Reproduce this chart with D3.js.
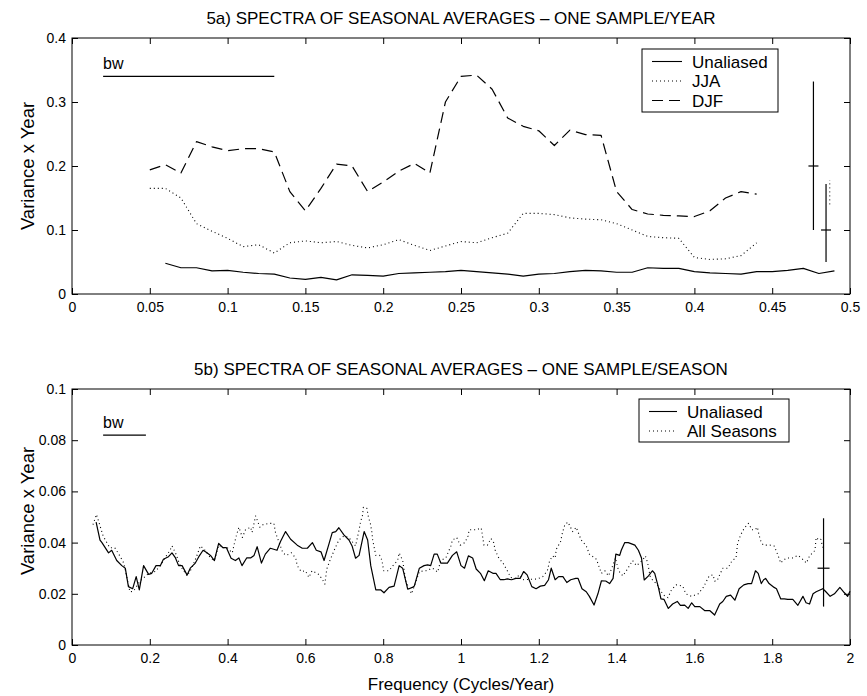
<!DOCTYPE html>
<html>
<head>
<meta charset="utf-8">
<script src="https://cdn.jsdelivr.net/npm/d3@7"></script>
<style>
  body { margin: 0; background: #fff; }
  svg text { font-family: "Liberation Sans", Arial, Helvetica, sans-serif; fill: #000; }
</style>
</head>
<body>
<div id="canvas"></div>
<script>
// ---- 5a data (one sample / year) ----
var freqUnalA = [0.06, 0.07, 0.08, 0.09, 0.10, 0.11, 0.12, 0.13, 0.14, 0.15, 0.16, 0.17, 0.18, 0.19, 0.20,
  0.21, 0.22, 0.23, 0.24, 0.25, 0.26, 0.27, 0.28, 0.29, 0.30, 0.31, 0.32, 0.33, 0.34, 0.35, 0.36, 0.37,
  0.38, 0.39, 0.40, 0.41, 0.42, 0.43, 0.44, 0.45, 0.46, 0.47, 0.48, 0.49];
var unaliasedA = [0.048, 0.041, 0.041, 0.036, 0.037, 0.034, 0.032, 0.031, 0.025, 0.023, 0.026, 0.022, 0.030,
  0.029, 0.028, 0.032, 0.033, 0.034, 0.035, 0.037, 0.035, 0.033, 0.031, 0.028, 0.031, 0.032, 0.035, 0.037,
  0.036, 0.034, 0.034, 0.041, 0.040, 0.040, 0.035, 0.033, 0.032, 0.031, 0.035, 0.035, 0.037, 0.040, 0.032, 0.036];

var freqSeason = [0.05, 0.06, 0.07, 0.08, 0.09, 0.10, 0.11, 0.12, 0.13, 0.14, 0.15, 0.16, 0.17, 0.18, 0.19,
  0.20, 0.21, 0.22, 0.23, 0.24, 0.25, 0.26, 0.27, 0.28, 0.29, 0.30, 0.31, 0.32, 0.33, 0.34, 0.35, 0.36,
  0.37, 0.38, 0.39, 0.40, 0.41, 0.42, 0.43, 0.44];
var jja = [0.165, 0.165, 0.150, 0.110, 0.098, 0.087, 0.074, 0.077, 0.064, 0.080, 0.083, 0.080, 0.082, 0.076,
  0.072, 0.077, 0.085, 0.076, 0.068, 0.075, 0.082, 0.080, 0.088, 0.095, 0.126, 0.126, 0.124, 0.119, 0.117,
  0.116, 0.110, 0.100, 0.090, 0.088, 0.087, 0.057, 0.054, 0.055, 0.060, 0.080];
var djf = [0.194, 0.202, 0.189, 0.238, 0.230, 0.224, 0.227, 0.227, 0.222, 0.160, 0.130, 0.165, 0.203, 0.200,
  0.160, 0.175, 0.192, 0.204, 0.189, 0.300, 0.340, 0.342, 0.320, 0.275, 0.262, 0.255, 0.232, 0.256, 0.249,
  0.248, 0.160, 0.132, 0.125, 0.123, 0.122, 0.121, 0.130, 0.150, 0.160, 0.156];

// error bars: [freq, low, centre, high]
var errA = [[0.4765, 0.10, 0.20, 0.332], [0.4846, 0.05, 0.10, 0.172]];
var errJJA = [0.487, 0.14, 0.178];
var bwA = [0.02, 0.13, 0.34];

var xTicksA = [0, 0.05, 0.1, 0.15, 0.2, 0.25, 0.3, 0.35, 0.4, 0.45, 0.5];
var yTicksA = [0, 0.1, 0.2, 0.3, 0.4];

// ---- 5b data (one sample / season) ----
var unaliasedB = [[0.062,0.048],[0.072,0.041],[0.077,0.040],[0.094,0.036],[0.102,0.037],[0.115,0.033],
  [0.128,0.031],[0.137,0.030],[0.145,0.0228],[0.156,0.022],[0.165,0.0267],[0.173,0.0215],[0.184,0.031],
  [0.197,0.0276],[0.205,0.028],[0.216,0.031],[0.227,0.031],[0.235,0.0335],[0.248,0.0345],[0.257,0.036],
  [0.266,0.034],[0.274,0.031],[0.283,0.031],[0.296,0.0273],[0.304,0.030],[0.317,0.032],[0.326,0.0345],
  [0.337,0.037],[0.347,0.036],[0.356,0.035],[0.366,0.033],[0.377,0.0397],[0.388,0.038],[0.397,0.038],
  [0.409,0.0339],[0.420,0.033],[0.429,0.034],[0.437,0.031],[0.449,0.034],[0.459,0.034],[0.468,0.035],
  [0.476,0.0384],[0.487,0.032],[0.497,0.0355],[0.510,0.0378],[0.527,0.037],[0.536,0.0404],[0.549,0.0443],
  [0.562,0.0413],[0.579,0.039],[0.592,0.0378],[0.605,0.0378],[0.618,0.040],[0.628,0.037],[0.640,0.0364],
  [0.648,0.033],[0.661,0.0397],[0.669,0.0439],[0.678,0.0443],[0.686,0.0458],[0.699,0.043],[0.712,0.041],
  [0.720,0.0387],[0.729,0.0339],[0.738,0.035],[0.751,0.0443],[0.760,0.041],[0.768,0.031],[0.781,0.0215],
  [0.794,0.0215],[0.802,0.0204],[0.815,0.0225],[0.828,0.023],[0.841,0.031],[0.850,0.030],[0.863,0.0218],
  [0.875,0.0225],[0.880,0.023],[0.893,0.030],[0.905,0.031],[0.914,0.0313],[0.922,0.031],[0.931,0.0355],
  [0.939,0.0355],[0.948,0.032],[0.965,0.032],[0.978,0.035],[0.989,0.0364],[1.000,0.031],[1.009,0.030],
  [1.019,0.0348],[1.030,0.034],[1.039,0.0297],[1.050,0.028],[1.060,0.0251],[1.070,0.029],[1.082,0.028],
  [1.090,0.028],[1.101,0.0255],[1.110,0.0255],[1.119,0.0258],[1.130,0.0255],[1.141,0.026],[1.152,0.026],
  [1.161,0.0287],[1.170,0.0274],[1.182,0.0228],[1.193,0.022],[1.204,0.023],[1.215,0.0233],[1.225,0.0255],
  [1.232,0.030],[1.242,0.0255],[1.251,0.0267],[1.262,0.0267],[1.272,0.0244],[1.282,0.0255],[1.295,0.026],
  [1.301,0.026],[1.311,0.022],[1.322,0.0208],[1.330,0.019],[1.342,0.0156],[1.352,0.020],[1.361,0.0251],
  [1.372,0.025],[1.382,0.024],[1.391,0.026],[1.398,0.0355],[1.408,0.035],[1.412,0.037],[1.421,0.040],
  [1.430,0.040],[1.447,0.039],[1.456,0.037],[1.464,0.034],[1.471,0.0254],[1.482,0.027],[1.492,0.029],
  [1.498,0.028],[1.507,0.0228],[1.514,0.018],[1.522,0.0178],[1.533,0.0143],[1.544,0.016],[1.556,0.017],
  [1.564,0.0155],[1.575,0.0156],[1.584,0.0143],[1.593,0.0165],[1.601,0.015],[1.614,0.015],[1.627,0.0134],
  [1.640,0.0134],[1.652,0.0117],[1.665,0.016],[1.673,0.017],[1.682,0.019],[1.693,0.0195],[1.704,0.0175],
  [1.715,0.022],[1.727,0.0235],[1.738,0.024],[1.747,0.024],[1.753,0.027],[1.757,0.029],[1.764,0.028],
  [1.772,0.024],[1.778,0.0255],[1.783,0.026],[1.792,0.024],[1.805,0.0225],[1.811,0.022],[1.822,0.018],
  [1.831,0.018],[1.840,0.0178],[1.853,0.0178],[1.866,0.0155],[1.879,0.019],[1.887,0.0165],[1.896,0.016],
  [1.905,0.020],[1.913,0.0208],[1.930,0.022],[1.938,0.0208],[1.949,0.019],[1.960,0.020],[1.974,0.0225],
  [1.985,0.0205],[1.994,0.019],[2.0,0.021]];

var allSeasons = [[0.054,0.047],[0.063,0.051],[0.080,0.0426],[0.097,0.038],[0.110,0.038],[0.123,0.0348],
  [0.133,0.032],[0.149,0.0208],[0.158,0.021],[0.175,0.025],[0.197,0.028],[0.214,0.0287],[0.227,0.031],
  [0.239,0.034],[0.252,0.037],[0.257,0.0387],[0.266,0.036],[0.278,0.031],[0.296,0.027],[0.308,0.030],
  [0.320,0.0345],[0.330,0.0387],[0.342,0.037],[0.356,0.034],[0.366,0.033],[0.377,0.039],[0.390,0.038],
  [0.399,0.038],[0.412,0.036],[0.418,0.040],[0.423,0.043],[0.429,0.046],[0.438,0.042],[0.446,0.045],
  [0.459,0.046],[0.463,0.044],[0.472,0.0504],[0.483,0.046],[0.491,0.047],[0.506,0.0475],[0.519,0.0475],
  [0.523,0.044],[0.530,0.041],[0.542,0.036],[0.551,0.035],[0.564,0.036],[0.575,0.034],[0.579,0.031],
  [0.589,0.0287],[0.600,0.029],[0.609,0.0264],[0.617,0.029],[0.633,0.0277],[0.643,0.0258],[0.650,0.0238],
  [0.655,0.0297],[0.663,0.033],[0.674,0.037],[0.686,0.041],[0.699,0.0426],[0.711,0.042],[0.717,0.041],
  [0.729,0.0387],[0.738,0.045],[0.742,0.0482],[0.747,0.0508],[0.749,0.0538],[0.758,0.0534],[0.762,0.050],
  [0.767,0.0475],[0.771,0.044],[0.773,0.041],[0.781,0.035],[0.791,0.035],[0.797,0.033],[0.801,0.029],
  [0.815,0.029],[0.825,0.031],[0.837,0.033],[0.841,0.036],[0.850,0.033],[0.858,0.025],[0.873,0.020],
  [0.880,0.023],[0.893,0.0287],[0.910,0.029],[0.927,0.030],[0.940,0.0285],[0.948,0.033],[0.961,0.034],
  [0.974,0.0387],[0.978,0.041],[0.989,0.042],[0.998,0.039],[1.010,0.040],[1.018,0.0426],[1.021,0.045],
  [1.039,0.045],[1.052,0.0457],[1.059,0.039],[1.068,0.039],[1.077,0.0416],[1.084,0.040],[1.088,0.037],
  [1.097,0.034],[1.108,0.032],[1.119,0.029],[1.128,0.0264],[1.141,0.026],[1.150,0.0274],[1.161,0.0255],
  [1.196,0.0258],[1.210,0.0267],[1.222,0.029],[1.228,0.033],[1.236,0.0348],[1.242,0.034],[1.245,0.0374],
  [1.256,0.0404],[1.261,0.044],[1.267,0.047],[1.275,0.048],[1.287,0.0443],[1.296,0.046],[1.309,0.041],
  [1.322,0.0387],[1.330,0.0355],[1.348,0.0335],[1.354,0.031],[1.361,0.028],[1.370,0.029],[1.379,0.027],
  [1.387,0.0297],[1.397,0.034],[1.405,0.029],[1.416,0.027],[1.428,0.0297],[1.441,0.033],[1.451,0.031],
  [1.466,0.033],[1.474,0.0348],[1.480,0.032],[1.486,0.027],[1.490,0.0258],[1.503,0.0238],[1.514,0.021],
  [1.521,0.0195],[1.532,0.0185],[1.541,0.0215],[1.553,0.0235],[1.570,0.023],[1.578,0.020],[1.593,0.019],
  [1.610,0.020],[1.623,0.0225],[1.638,0.027],[1.648,0.0274],[1.652,0.025],[1.658,0.025],[1.665,0.0274],
  [1.673,0.030],[1.686,0.030],[1.697,0.033],[1.707,0.034],[1.711,0.0397],[1.719,0.043],[1.728,0.0456],
  [1.739,0.0475],[1.748,0.045],[1.756,0.045],[1.762,0.046],[1.766,0.043],[1.772,0.040],[1.778,0.039],
  [1.794,0.039],[1.805,0.0387],[1.815,0.035],[1.822,0.032],[1.828,0.033],[1.837,0.034],[1.852,0.034],
  [1.866,0.035],[1.875,0.034],[1.888,0.032],[1.896,0.0348],[1.904,0.036],[1.910,0.037],[1.913,0.042],
  [1.920,0.041],[1.925,0.0413],[1.929,0.0387],[1.934,0.037]];

var errB = [[1.932, 0.015, 0.030, 0.0495]];
var bwB = [0.08, 0.19, 0.082];

var xTicksB = [0, 0.2, 0.4, 0.6, 0.8, 1, 1.2, 1.4, 1.6, 1.8, 2];
var yTicksB = [0, 0.02, 0.04, 0.06, 0.08, 0.1];

var DOTTED = '1,3', DASHED = '11,6';

var svg = d3.select('#canvas').append('svg')
  .attr('width', 867)
  .attr('height', 696);

var fmt = function (d) { return String(+d.toFixed(3)); };

var drawPanel = function (p) {
  var x = d3.scaleLinear().domain(p.xDomain).range([p.left, p.right]);
  var y = d3.scaleLinear().domain(p.yDomain).range([p.bottom, p.top]);
  var g = svg.append('g');

  // ticks point inwards on all four sides
  var axB = g.append('g').attr('transform', 'translate(0,' + p.bottom + ')')
    .call(d3.axisBottom(x).tickValues(p.xTicks).tickSizeInner(-6).tickSizeOuter(0).tickPadding(8).tickFormat(fmt));
  var axL = g.append('g').attr('transform', 'translate(' + p.left + ',0)')
    .call(d3.axisLeft(y).tickValues(p.yTicks).tickSizeInner(-6).tickSizeOuter(0).tickPadding(6).tickFormat(fmt));
  var axT = g.append('g').attr('transform', 'translate(0,' + p.top + ')')
    .call(d3.axisTop(x).tickValues(p.xTicks).tickSizeInner(-6).tickSizeOuter(0).tickFormat(''));
  var axR = g.append('g').attr('transform', 'translate(' + p.right + ',0)')
    .call(d3.axisRight(y).tickValues(p.yTicks).tickSizeInner(-6).tickSizeOuter(0).tickFormat(''));
  [axB, axL, axT, axR].forEach(function (a) {
    a.attr('font-size', 14);
    a.select('.domain').remove();
    a.selectAll('line').attr('stroke', '#000');
  });

  g.append('rect')
    .attr('x', p.left).attr('y', p.top)
    .attr('width', p.right - p.left).attr('height', p.bottom - p.top)
    .attr('fill', 'none').attr('stroke', '#000').attr('stroke-width', 1);

  var line = d3.line()
    .x(function (d) { return x(d[0]); })
    .y(function (d) { return y(d[1]); });

  p.series.forEach(function (s) {
    g.append('path')
      .datum(s.data)
      .attr('d', line)
      .attr('fill', 'none')
      .attr('stroke', '#000')
      .attr('stroke-width', s.dash === DOTTED ? 1.1 : 1.2)
      .attr('stroke-dasharray', s.dash || null)
      .attr('stroke-linejoin', 'round');
  });

  // error bars
  p.errors.forEach(function (e) {
    g.append('line')
      .attr('x1', x(e[0])).attr('x2', x(e[0]))
      .attr('y1', y(e[1])).attr('y2', y(e[3]))
      .attr('stroke', '#000').attr('stroke-width', 1.2);
    g.append('line')
      .attr('x1', x(e[0]) - p.capW).attr('x2', x(e[0]) + p.capW)
      .attr('y1', y(e[2])).attr('y2', y(e[2]))
      .attr('stroke', '#000').attr('stroke-width', 1.2);
  });
  if (p.dotBar) {
    g.append('line')
      .attr('x1', x(p.dotBar[0])).attr('x2', x(p.dotBar[0]))
      .attr('y1', y(p.dotBar[1])).attr('y2', y(p.dotBar[2]))
      .attr('stroke', '#000').attr('stroke-dasharray', DOTTED);
  }

  // bandwidth marker
  g.append('line')
    .attr('x1', x(p.bw[0])).attr('x2', x(p.bw[1]))
    .attr('y1', y(p.bw[2])).attr('y2', y(p.bw[2]))
    .attr('stroke', '#000').attr('stroke-width', 1.2);
  g.append('text')
    .attr('x', x(p.bw[0])).attr('y', y(p.bw[2]) - 7)
    .attr('font-size', 16).text('bw');

  // titles
  g.append('text')
    .attr('x', (p.left + p.right) / 2).attr('y', p.top - 14)
    .attr('text-anchor', 'middle').attr('font-size', 17)
    .text(p.title);
  g.append('text')
    .attr('transform', 'translate(34,' + p.yLabelAt + ') rotate(-90)')
    .attr('text-anchor', 'middle').attr('font-size', 18.5)
    .text('Variance x Year');
  if (p.xLabel) {
    g.append('text')
      .attr('x', (p.left + p.right) / 2).attr('y', p.bottom + 45)
      .attr('text-anchor', 'middle').attr('font-size', 17)
      .text(p.xLabel);
  }

  // legend
  var lg = g.append('g');
  lg.append('rect')
    .attr('x', p.legend.x).attr('y', p.legend.y)
    .attr('width', p.legend.w).attr('height', p.legend.h)
    .attr('fill', '#fff').attr('stroke', '#000').attr('stroke-width', 1);
  p.series.forEach(function (s, i) {
    var ly = p.legend.y + 12.5 + i * 19.5;
    lg.append('line')
      .attr('x1', p.legend.x + 10).attr('x2', p.legend.x + 10 + p.legend.len)
      .attr('y1', ly).attr('y2', ly)
      .attr('stroke', '#000').attr('stroke-width', 1.1)
      .attr('stroke-dasharray', s.dash || null);
    lg.append('text')
      .attr('x', p.legend.x + 20 + p.legend.len).attr('y', ly)
      .attr('dy', '0.36em').attr('font-size', 17)
      .text(s.name);
  });
};

drawPanel({
  left: 72, right: 850, top: 38, bottom: 294,
  xDomain: [0, 0.5], yDomain: [0, 0.4],
  xTicks: xTicksA, yTicks: yTicksA,
  title: '5a) SPECTRA OF SEASONAL AVERAGES \u2013 ONE SAMPLE/YEAR',
  yLabelAt: 166,
  series: [
    { name: 'Unaliased', data: d3.zip(freqUnalA, unaliasedA) },
    { name: 'JJA', data: d3.zip(freqSeason, jja), dash: DOTTED },
    { name: 'DJF', data: d3.zip(freqSeason, djf), dash: DASHED }
  ],
  errors: errA, capW: 5, dotBar: errJJA, bw: bwA,
  legend: { x: 642, y: 49, w: 136, h: 63, len: 30 }
});

drawPanel({
  left: 72, right: 850, top: 389, bottom: 645,
  xDomain: [0, 2], yDomain: [0, 0.1],
  xTicks: xTicksB, yTicks: yTicksB,
  title: '5b) SPECTRA OF SEASONAL AVERAGES \u2013 ONE SAMPLE/SEASON',
  xLabel: 'Frequency (Cycles/Year)',
  yLabelAt: 511,
  series: [
    { name: 'Unaliased', data: unaliasedB },
    { name: 'All Seasons', data: allSeasons, dash: DOTTED }
  ],
  errors: errB, capW: 6, bw: bwB,
  legend: { x: 639, y: 399, w: 150, h: 43, len: 28 }
});
</script>
</body>
</html>
